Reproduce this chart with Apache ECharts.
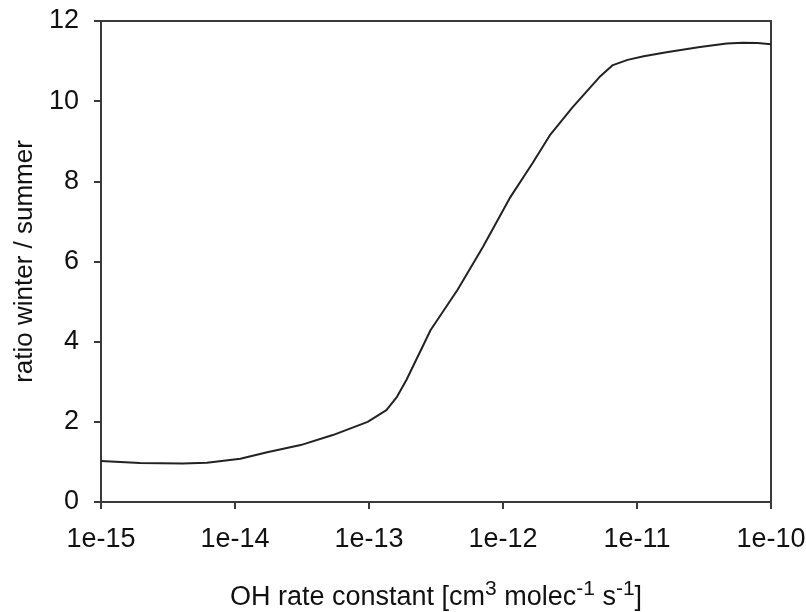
<!DOCTYPE html>
<html>
<head>
<meta charset="utf-8">
<script src="https://cdn.jsdelivr.net/npm/echarts@6/dist/echarts.min.js"></script>
<style>
  html, body { margin: 0; padding: 0; background: #fff; }
  #chart { width: 806px; height: 612px; }
</style>
</head>
<body>
<div id="chart"></div>
<script>
// exponent of the OH rate constant (10^x)
let rateExp = [-15, -14.71, -14.39, -14.21, -13.96, -13.76, -13.51, -13.27, -13.01, -12.87, -12.79, -12.72,
  -12.54, -12.34, -12.15, -11.95, -11.78, -11.65, -11.48, -11.28, -11.18, -11.07, -10.95, -10.78,
  -10.53, -10.33, -10.21, -10.10, -10.0];
let ratio = [1.02, 0.97, 0.96, 0.98, 1.08, 1.24, 1.42, 1.67, 2.0, 2.29, 2.63, 3.05,
  4.29, 5.29, 6.36, 7.58, 8.45, 9.15, 9.85, 10.6, 10.9, 11.03, 11.12, 11.22,
  11.35, 11.44, 11.46, 11.45, 11.42];
let xTicks = ['1e-15', '1e-14', '1e-13', '1e-12', '1e-11', '1e-10'];
let yTicks = [0, 2, 4, 6, 8, 10, 12];

let chartDom = document.getElementById('chart');
let myChart = echarts.init(chartDom);
let option;

let font = 'Liberation Sans, Arial, Helvetica, sans-serif';
let ink = '#3a3a3a';

option = {
  animation: false,
  grid: {
    left: 101,
    right: 35,
    top: 21,
    bottom: 110,
    outerBoundsMode: 'none',
    containLabel: false,
    show: true,
    borderColor: ink,
    borderWidth: 2,
    backgroundColor: 'transparent'
  },
  xAxis: {
    type: 'value',
    min: -15,
    max: -10,
    interval: 1,
    name: '{n|OH rate constant [cm}{s|3}{n| molec}{s|-1}{n| s}{s|-1}{n|]}',
    nameLocation: 'middle',
    nameGap: 75,
    nameTextStyle: {
      rich: {
        n: { fontFamily: font, fontSize: 27, color: '#111', verticalAlign: 'bottom', lineHeight: 34 },
        s: { fontFamily: font, fontSize: 21, color: '#111', verticalAlign: 'bottom', lineHeight: 34, padding: [0, 0, 11, 0] }
      }
    },
    axisLine: { show: true, onZero: false, lineStyle: { color: ink, width: 2 } },
    axisTick: { show: true, inside: false, length: 7, lineStyle: { color: ink, width: 2 } },
    axisLabel: {
      margin: 24,
      fontFamily: font,
      fontSize: 27,
      color: '#111',
      formatter: function (v) { return xTicks[Math.round(v + 15)]; }
    },
    splitLine: { show: false }
  },
  yAxis: {
    type: 'value',
    min: 0,
    max: 12,
    interval: 2,
    name: 'ratio winter / summer',
    nameLocation: 'middle',
    nameGap: 61,
    nameTextStyle: { fontFamily: font, fontSize: 26, color: '#111' },
    axisLine: { show: true, lineStyle: { color: ink, width: 2 } },
    axisTick: { show: true, inside: false, length: 7, lineStyle: { color: ink, width: 2 } },
    axisLabel: {
      margin: 22,
      fontFamily: font,
      fontSize: 27,
      color: '#111',
      formatter: function (v) { return yTicks.indexOf(v) >= 0 ? String(v) : ''; }
    },
    splitLine: { show: false }
  },
  series: [
    {
      name: 'ratio',
      type: 'line',
      data: rateExp.map(function (x, i) { return [x, ratio[i]]; }),
      showSymbol: false,
      smooth: false,
      lineStyle: { color: '#222', width: 2 }
    }
  ]
};

option && myChart.setOption(option);
</script>
</body>
</html>
